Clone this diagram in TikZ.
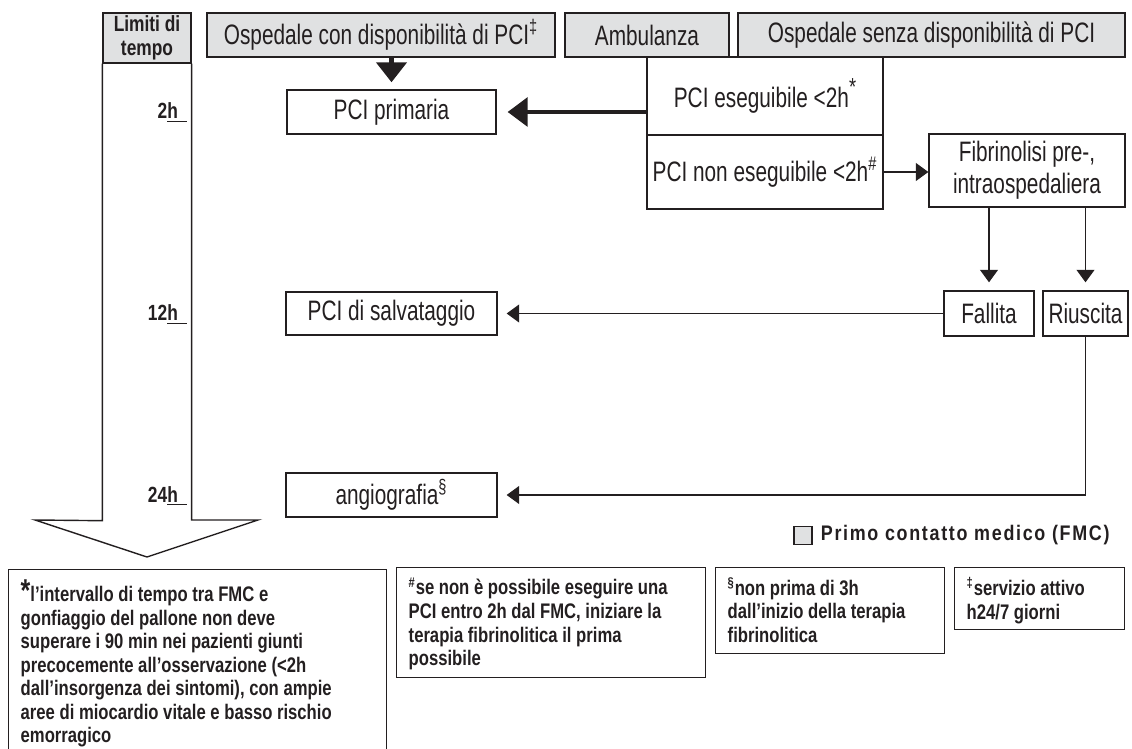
\documentclass[tikz,border=0pt]{standalone}
\usepackage{fontspec}
\setmainfont{Liberation Sans}[FakeStretch=0.74]
\newfontfamily\notefont{Liberation Sans}[FakeStretch=0.79]
\newfontfamily\legendfont{Liberation Sans}[FakeStretch=0.85,LetterSpace=8]
\usetikzlibrary{arrows.meta}
\definecolor{fmcgray}{RGB}{224,225,226}
\definecolor{ink}{RGB}{35,31,32}
\begin{document}
\begin{tikzpicture}[x=0.02cm,y=-0.02cm,
  box/.style={draw=ink,line width=0.8pt,inner sep=0pt,text=ink,font=\fontsize{16}{18}\selectfont},
  fmc/.style={box,fill=fmcgray},
  note/.style={draw=ink,line width=0.8pt,anchor=north west,inner xsep=0.24cm,inner ysep=0.2cm,text=ink,font=\notefont\bfseries\fontsize{12}{13.4}\selectfont},
  tick/.style={anchor=base east,inner sep=0pt,text=ink,font=\notefont\bfseries\fontsize{12.5}{13}\selectfont},
  arrow/.style={draw=ink,line width=0.6pt,-{Triangle[length=0.25cm,width=0.36cm]}},
  bigarrow/.style={draw=ink,line width=1.8pt,-{Triangle[length=0.4cm,width=0.58cm]}}]
\useasboundingbox (0,0) rectangle (1132,749);
% time axis
\node[fmc,minimum width=1.76cm,minimum height=1cm,align=center,font=\notefont\bfseries\fontsize{12.5}{13.5}\selectfont] (tempo) at (147,38) {Limiti di\\tempo};
\draw[draw=ink,line width=0.8pt] (tempo.south west) -- ++(0,457) -- (35,520) -- (147,557) -- (258,520) -- (tempo.south east |- 0,520) -- (tempo.south east);
\node[tick] (t2) at (187,119) {2\underline{h\hspace{5pt}}};
\node[tick] (t12) at (187,321) {12\underline{h\hspace{5pt}}};
\node[tick] (t24) at (187,502) {24\underline{h\hspace{5pt}}};
% first contact
\node[fmc,minimum width=6.96cm,minimum height=0.88cm] (osp1) at (381,35) {Ospedale con disponibilità di PCI\textsuperscript{‡}};
\node[fmc,minimum width=3.28cm,minimum height=0.88cm] (amb) at (647,35) {Ambulanza};
\node[fmc,minimum width=7.74cm,minimum height=0.88cm] (osp2) at (931.5,35) {Ospedale senza disponibilità di PCI};
% boxes
\node[box,minimum width=4.18cm,minimum height=0.88cm] (pp) at (391.5,112) {PCI primaria};
\node[box,minimum width=4.72cm,minimum height=1.56cm] (pe) at (765,96) {\raisebox{-0.28cm}{PCI eseguibile <2h\raisebox{0.45em}{\fontsize{14}{14}\selectfont*}}};
\node[box,minimum width=4.72cm,minimum height=1.48cm] (pne) at (765,172) {PCI non eseguibile <2h\textsuperscript{\#}};
\node[box,minimum width=3.92cm,minimum height=1.46cm,align=center] (fib) at (1027,170.5) {Fibrinolisi pre-,\\intraospedaliera};
\node[box,minimum width=1.8cm,minimum height=0.9cm] (fal) at (989,313.5) {Fallita};
\node[box,minimum width=1.7cm,minimum height=0.9cm] (riu) at (1085.5,313.5) {Riuscita};
\node[box,minimum width=4.22cm,minimum height=0.86cm] (ps) at (391.5,313.5) {PCI di salvataggio};
\node[box,minimum width=4.22cm,minimum height=0.88cm] (ang) at (391.5,495) {angiografia\textsuperscript{§}};
% connectors
\draw[bigarrow,line width=2.6pt,-{Triangle[length=0.4cm,width=0.6cm]},shorten >=0.14cm] (osp1.south -| pp) -- (pp);
\draw[bigarrow,shorten >=0.22cm] (pe.west |- pp) -- (pp);
\draw[arrow] (pne.east) -- (pne.east -| fib.west);
\draw[arrow,shorten >=0.16cm] (fib.south -| fal) -- (fal);
\draw[arrow,shorten >=0.16cm] (fib.south -| riu) -- (riu);
\draw[arrow,shorten >=0.18cm] (fal) -- (ps);
\draw[arrow,shorten >=0.18cm] (riu.south) |- (ang);
% legend
\node[fill=fmcgray,draw=ink,line width=0.6pt,minimum size=0.36cm,inner sep=0pt] (legsq) at (803,535.5) {};
\node[anchor=west,inner sep=0pt,text=ink,font=\legendfont\bfseries\fontsize{12}{13}\selectfont] (leg) at ([xshift=0.16cm]legsq.east) {Primo contatto medico (FMC)};
% footnotes
\node[note] (n1) at (8,569) {\parbox[t][3.8cm][t]{7.08cm}{\raggedright{\fontsize{18}{13}\selectfont*}l’intervallo di tempo tra FMC e\\gonfiaggio del pallone non deve\\superare i 90 min nei pazienti giunti\\precocemente all’osservazione (<2h\\dall’insorgenza dei sintomi), con ampie\\aree di miocardio vitale e basso rischio\\emorragico}};
\node[note] (n2) at (396,567) {\parbox[t][1.8cm][t]{5.70cm}{\raggedright\textsuperscript{\#}se non è possibile eseguire una\\PCI entro 2h dal FMC, iniziare la\\terapia fibrinolitica il prima\\possibile}};
\node[note] (n3) at (715,567) {\parbox[t][1.32cm][t]{4.10cm}{\raggedright\textsuperscript{§}non prima di 3h\\dall’inizio della terapia\\fibrinolitica}};
\node[note] (n4) at (954,567) {\parbox[t][0.84cm][t]{2.92cm}{\raggedright\textsuperscript{‡}servizio attivo\\h24/7 giorni}};
\end{tikzpicture}
\end{document}
